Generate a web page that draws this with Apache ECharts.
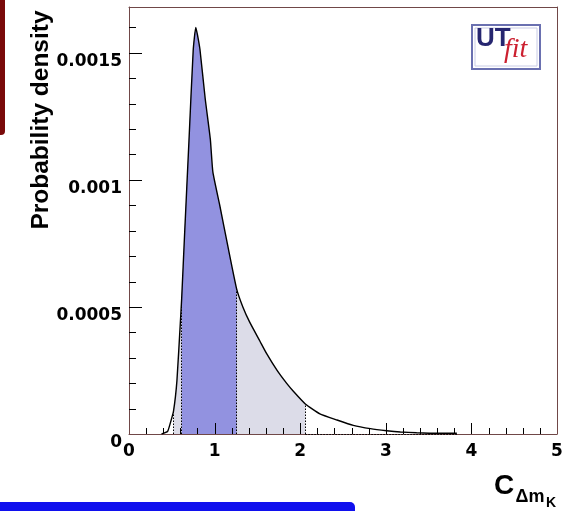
<!DOCTYPE html>
<html>
<head>
<meta charset="utf-8">
<script src="https://cdn.jsdelivr.net/npm/echarts@6/dist/echarts.min.js"></script>
<style>
html,body{margin:0;padding:0;background:#fff;}
#c{width:575px;height:511px;}
</style>
</head>
<body>
<div id="c"></div>
<script>
// Curve of the probability density for C_Δm_K
var curveX = [0.38, 0.45, 0.48, 0.52, 0.56, 0.60, 0.615, 0.65, 0.70, 0.75, 0.78, 0.80, 0.83, 0.89, 0.95, 0.98, 1.06, 1.16, 1.258, 1.33, 1.41, 1.53, 1.61, 1.73, 1.84, 1.92, 2.06, 2.23, 2.43, 2.62, 2.82, 3.01, 3.17, 3.36, 3.60, 3.83];
var curveY = [0, 0.00001, 0.00004, 0.00009, 0.00021, 0.00044, 0.00053, 0.00079, 0.00115, 0.00151, 0.00160, 0.00157, 0.00151, 0.00132, 0.00116, 0.00103, 0.00090, 0.00073, 0.00057, 0.00050, 0.00044, 0.000365, 0.000315, 0.00025, 0.00020, 0.000168, 0.000118, 0.000079, 0.000055, 0.000034, 0.000021, 0.000013, 0.000008, 0.000005, 0.000003, 0.000003];
// Probability intervals (95% and 68%)
var range95 = [0.52, 2.06];
var range68 = [0.615, 1.258];
// Axis ticks
var xTickLabels = ['0', '1', '2', '3', '4', '5'];
var xMajorTicks = [1, 2, 3, 4];
var xMinorTicks = [0.2, 0.4, 0.6, 0.8, 1.2, 1.4, 1.6, 1.8, 2.2, 2.4, 2.6, 2.8, 3.2, 3.4, 3.6, 3.8, 4.2, 4.4, 4.6, 4.8];
var yTickValues = [0, 0.0005, 0.001, 0.0015];
var yTickLabels = ['0', '0.0005', '0.001', '0.0015'];
var yMajorTicks = [0.0005, 0.001, 0.0015];
var yMinorTicks = [0.0001, 0.0002, 0.0003, 0.0004, 0.0006, 0.0007, 0.0008, 0.0009, 0.0011, 0.0012, 0.0013, 0.0014, 0.0016];

function pts(lo, hi) {
  var out = [];
  for (var i = 0; i < curveX.length; i++) {
    if (curveX[i] >= lo - 1e-9 && curveX[i] <= hi + 1e-9) out.push([curveX[i], curveY[i]]);
  }
  return out;
}
function yAt(x) {
  for (var i = 0; i < curveX.length; i++) if (Math.abs(curveX[i] - x) < 1e-9) return curveY[i];
  return 0;
}
// tick items: [axis (0 = x, 1 = y), value, length in px]
var tickItems = [];
xMajorTicks.forEach(function (v) { tickItems.push([0, v, 11]); });
xMinorTicks.forEach(function (v) { tickItems.push([0, v, 6]); });
yMajorTicks.forEach(function (v) { tickItems.push([1, v, 13]); });
yMinorTicks.forEach(function (v) { tickItems.push([1, v, 7]); });

var frame = '#704848';
var dotted = { color: '#000', width: 1, type: [1.5, 1.5] };
var YMAX = 0.00168;
var SMOOTH = 0.15;

var chart = echarts.init(document.getElementById('c'), null, { renderer: 'canvas' });
chart.setOption({
  animation: false,
  grid: { left: 129, top: 7, right: 18, bottom: 77 },
  xAxis: [{
    type: 'value', position: 'bottom', min: 0, max: 5, interval: 1,
    axisLine: { show: true, lineStyle: { color: frame, width: 1 } },
    axisTick: { show: false }, minorTick: { show: false },
    splitLine: { show: false },
    axisLabel: {
      margin: 9, color: '#000', fontFamily: 'DejaVu Sans', fontWeight: 'bold', fontSize: 17,
      formatter: function (v) { return xTickLabels[Math.round(v)]; }
    }
  }, {
    type: 'value', position: 'top', min: 0, max: 5,
    axisLine: { show: true, onZero: false, lineStyle: { color: frame, width: 1 } },
    axisTick: { show: false }, axisLabel: { show: false }, splitLine: { show: false }
  }],
  yAxis: [{
    type: 'value', position: 'left', min: 0, max: YMAX, interval: 0.0005,
    axisLine: { show: true, lineStyle: { color: frame, width: 1 } },
    axisTick: { show: false },
    splitLine: { show: false },
    axisLabel: {
      margin: 7, color: '#000', fontFamily: 'DejaVu Sans', fontWeight: 'bold', fontSize: 17,
      verticalAlign: 'top',
      formatter: function (v) {
        for (var i = 0; i < yTickValues.length; i++) if (Math.abs(v - yTickValues[i]) < 1e-9) return yTickLabels[i];
        return '';
      }
    }
  }, {
    type: 'value', position: 'right', min: 0, max: YMAX,
    axisLine: { show: true, onZero: false, lineStyle: { color: frame, width: 1 } },
    axisTick: { show: false }, axisLabel: { show: false }, splitLine: { show: false }
  }],
  series: [
    {
      type: 'line', data: pts(range95[0], range95[1]), showSymbol: false, symbol: 'none', smooth: SMOOTH,
      lineStyle: { width: 0 }, areaStyle: { color: '#dcdce8', opacity: 1 }, z: 1, silent: true
    },
    {
      type: 'line', data: pts(range68[0], range68[1]), showSymbol: false, symbol: 'none', smooth: SMOOTH,
      lineStyle: { width: 0 }, areaStyle: { color: '#9292e0', opacity: 1 }, z: 2, silent: true
    },
    {
      type: 'line', data: pts(-1, 99), showSymbol: false, symbol: 'none', smooth: SMOOTH,
      lineStyle: { color: '#000', width: 1.4 }, z: 4, silent: true,
      markLine: {
        silent: true, symbol: 'none', label: { show: false }, lineStyle: dotted,
        data: [
          [{ coord: [range95[0], 0] }, { coord: [range95[0], yAt(range95[0])] }],
          [{ coord: [range68[0], 0] }, { coord: [range68[0], yAt(range68[0])] }],
          [{ coord: [range68[1], 0] }, { coord: [range68[1], yAt(range68[1])] }],
          [{ coord: [range95[1], 0] }, { coord: [range95[1], yAt(range95[1])] }],
          [{ coord: [range95[1], 0] }, { coord: [curveX[curveX.length - 1], 0] }]
        ]
      }
    },
    {
      // axis ticks, placed through the axes' own scales
      type: 'custom', data: tickItems, silent: true, z: 5, clip: false,
      dimensions: ['axis', 'value', 'len'], encode: { x: 1 },
      renderItem: function (params, api) {
        var axis = api.value(0), v = api.value(1), len = api.value(2), p, x, y;
        if (axis === 0) {
          p = api.coord([v, 0]);
          x = Math.round(p[0]) + 0.5;
          return { type: 'line', shape: { x1: x, y1: p[1], x2: x, y2: p[1] - len }, style: { stroke: '#000', lineWidth: 1 } };
        }
        p = api.coord([0, v]);
        y = Math.round(p[1]) + 0.5;
        return { type: 'line', shape: { x1: p[0], y1: y, x2: p[0] + len, y2: y }, style: { stroke: '#000', lineWidth: 1 } };
      }
    }
  ],
  graphic: [
    { type: 'rect', shape: { x: 0, y: 0, width: 5, height: 135, r: [0, 0, 4, 0] }, style: { fill: '#7a0a0a' } },
    { type: 'rect', shape: { x: 0, y: 502, width: 355, height: 12, r: [0, 5, 0, 0] }, style: { fill: '#1010ee' } },
    { type: 'text', x: 41, y: 120, rotation: Math.PI / 2, style: { text: 'Probability density', font: 'bold 24.5px "Liberation Sans"', fill: '#000', align: 'center', verticalAlign: 'middle' } },
    { type: 'text', x: 504, y: 486, style: { text: 'C', font: 'bold 28px "Liberation Sans"', fill: '#000', align: 'center', verticalAlign: 'middle' } },
    { type: 'text', x: 530, y: 497, style: { text: 'Δm', font: 'bold 18px "Liberation Sans"', fill: '#000', align: 'center', verticalAlign: 'middle' } },
    { type: 'text', x: 551, y: 503, style: { text: 'K', font: 'bold 14px "Liberation Sans"', fill: '#000', align: 'center', verticalAlign: 'middle' } },
    { type: 'rect', shape: { x: 472, y: 25, width: 68, height: 44 }, style: { fill: '#fff', stroke: '#6a70b0', lineWidth: 2 } },
    { type: 'rect', shape: { x: 475, y: 28, width: 62, height: 38 }, style: { fill: 'none', stroke: '#c9cce6', lineWidth: 1 } },
    { type: 'text', x: 476, y: 39, style: { text: 'UT', font: 'bold 26px "Liberation Sans"', fill: '#262670', align: 'left', verticalAlign: 'middle' } },
    { type: 'text', x: 504, y: 50, style: { text: 'fit', font: 'italic 28px "Liberation Serif"', fill: '#cc2030', align: 'left', verticalAlign: 'middle' } }
  ]
});
</script>
</body>
</html>
